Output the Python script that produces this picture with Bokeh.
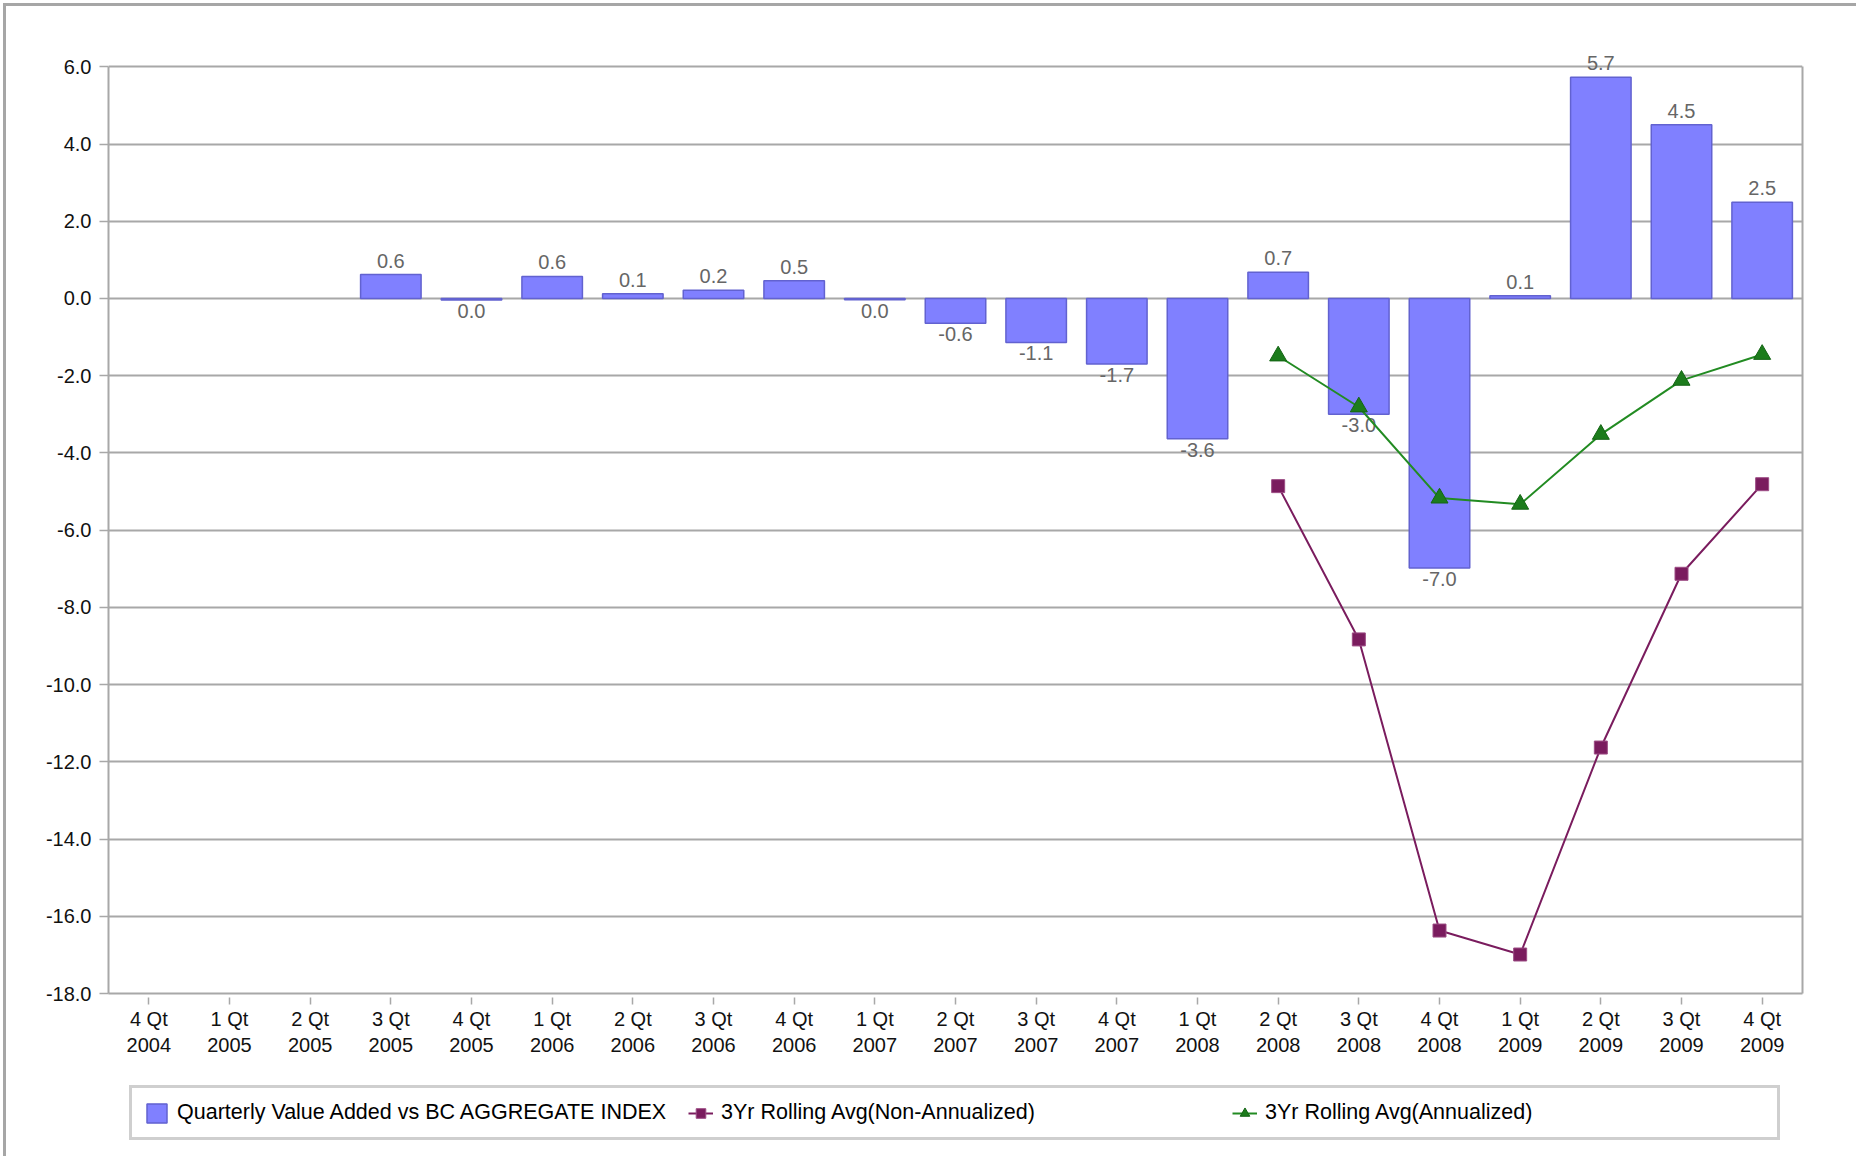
import numpy as np
from bokeh.plotting import figure
from bokeh.layouts import column
from bokeh.models import (ColumnDataSource, FactorRange, Range1d, FixedTicker, LinearAxis,
                          PrintfTickFormatter, Legend, LegendItem, CDSView, IndexFilter)
from bokeh.core.properties import value
from bokeh.embed import file_html
from bokeh.resources import INLINE

# ---------------- data ----------------
quarters = ["4 Qt\n2004", "1 Qt\n2005", "2 Qt\n2005", "3 Qt\n2005", "4 Qt\n2005",
            "1 Qt\n2006", "2 Qt\n2006", "3 Qt\n2006", "4 Qt\n2006", "1 Qt\n2007",
            "2 Qt\n2007", "3 Qt\n2007", "4 Qt\n2007", "1 Qt\n2008", "2 Qt\n2008",
            "3 Qt\n2008", "4 Qt\n2008", "1 Qt\n2009", "2 Qt\n2009", "3 Qt\n2009",
            "4 Qt\n2009"]

value_added = [None, None, None, 0.62, -0.04, 0.57, 0.12, 0.21, 0.46, -0.03,
               -0.64, -1.14, -1.70, -3.63, 0.68, -3.00, -6.98, 0.07, 5.73, 4.50, 2.49]

value_labels = ["", "", "", "0.6", "0.0", "0.6", "0.1", "0.2", "0.5", "0.0",
                "-0.6", "-1.1", "-1.7", "-3.6", "0.7", "-3.0", "-7.0", "0.1", "5.7", "4.5", "2.5"]

rolling_non_annualized = [None, None, None, None, None, None, None, None, None, None,
                          None, None, None, None, -4.86, -8.83, -16.37, -16.99, -11.63, -7.13, -4.81]

rolling_annualized = [None, None, None, None, None, None, None, None, None, None,
                      None, None, None, None, -1.49, -2.81, -5.17, -5.33, -3.52, -2.12, -1.45]

y_ticks = [-18, -16, -14, -12, -10, -8, -6, -4, -2, 0, 2, 4, 6]
y_min, y_max = -18, 6

series_names = ["Quarterly Value Added vs BC AGGREGATE INDEX",
                "3Yr Rolling Avg(Non-Annualized)",
                "3Yr Rolling Avg(Annualized)"]

# ---------------- styling constants ----------------
FONT = "Liberation Sans"
GRID = "#a8a8a8"
BAR_STYLE = dict(fill_color="#8080ff", line_color="#6262d0", line_width=1.5)
PURPLE_LINE = dict(line_color="#7a1c5e", line_width=2)
PURPLE_MARK = dict(marker="square", size=13, fill_color="#7a1c5e", line_color="#9c4c84", line_width=1)
GREEN_LINE = dict(line_color="#228b22", line_width=2)
GREEN_MARK = dict(marker="triangle", size=17, fill_color="#1c7c1c", line_color="#146414", line_width=1)

src = ColumnDataSource(data=dict(
    x=quarters,
    top=np.array(value_added, dtype=float),
    label=value_labels,
    na=np.array(rolling_non_annualized, dtype=float),
    an=np.array(rolling_annualized, dtype=float),
))

# ---------------- main chart ----------------
# the range reaches a little above the top tick so that the "5.7" label is not clipped;
# the visible plot border is drawn by the top grid line and bounded axes
p = figure(x_range=FactorRange(factors=quarters), y_range=Range1d(y_min, y_max + 0.5),
           width=1850, height=1075, output_backend="svg", toolbar_location=None,
           min_border_left=102, min_border_right=54, min_border_top=41, min_border_bottom=88)

p.background_fill_color = "white"
p.border_fill_color = "white"
p.outline_line_color = None

bars = p.vbar(x="x", top="top", bottom=0, width=0.75, source=src, **BAR_STYLE)

pos_idx = [i for i, v in enumerate(value_added) if v is not None and v >= 0]
neg_idx = [i for i, v in enumerate(value_added) if v is not None and v < 0]
p.text(x="x", y="top", text="label", source=src, view=CDSView(filter=IndexFilter(pos_idx)),
       text_align="center", text_baseline="alphabetic", y_offset=-14,
       text_font=value(FONT), text_font_size="20px", text_color="#666666")
p.text(x="x", y="top", text="label", source=src, view=CDSView(filter=IndexFilter(neg_idx)),
       text_align="center", text_baseline="top", y_offset=4,
       text_font=value(FONT), text_font_size="20px", text_color="#666666")

p.line(x="x", y="na", source=src, **PURPLE_LINE)
p.scatter(x="x", y="na", source=src, **PURPLE_MARK)
p.line(x="x", y="an", source=src, **GREEN_LINE)
p.scatter(x="x", y="an", source=src, **GREEN_MARK)

p.xgrid.grid_line_color = None
p.ygrid.ticker = FixedTicker(ticks=y_ticks)
p.ygrid.grid_line_color = GRID
p.ygrid.grid_line_width = 2

p.yaxis.ticker = FixedTicker(ticks=y_ticks)
p.yaxis.formatter = PrintfTickFormatter(format="%.1f")
p.yaxis.bounds = (y_min, y_max)
for ax in (p.xaxis[0], p.yaxis[0]):
    ax.axis_line_color = GRID
    ax.axis_line_width = 2
    ax.major_tick_line_color = GRID
    ax.major_tick_line_width = 1.5
    ax.minor_tick_line_color = None
    ax.major_label_text_font = FONT
    ax.major_label_text_font_size = "20px"
    ax.major_label_text_color = "#111111"

p.yaxis.major_tick_in = 0
p.yaxis.major_tick_out = 9
p.yaxis.major_label_standoff = 8

p.xaxis.major_tick_in = -4
p.xaxis.major_tick_out = 11
p.xaxis.major_label_standoff = 3
p.xaxis.major_label_orientation = "horizontal"

# right border of the plot area
right_edge = LinearAxis(bounds=(y_min, y_max), ticker=FixedTicker(ticks=[]),
                        axis_line_color=GRID, axis_line_width=2,
                        major_tick_line_color=None, minor_tick_line_color=None,
                        major_label_text_font_size="0px")
p.add_layout(right_edge, "right")

# ---------------- legend strip ----------------
pl = figure(width=1850, height=75, output_backend="svg", toolbar_location=None,
            x_range=Range1d(0, 1), y_range=Range1d(0, 1),
            x_axis_type=None, y_axis_type=None,
            min_border_left=0, min_border_right=0, min_border_top=0, min_border_bottom=0)
pl.outline_line_color = None
pl.xgrid.grid_line_color = None
pl.ygrid.grid_line_color = None
pl.background_fill_color = "white"
pl.border_fill_color = "white"

# invisible stand-in renderers (NaN data) that only give the legend its swatches
swatch = ColumnDataSource(data=dict(x=[np.nan], y=[np.nan]))
lb = pl.vbar(x="x", top="y", width=0.1, source=swatch, **BAR_STYLE)
ll1 = pl.line(x="x", y="y", source=swatch, **PURPLE_LINE)
lm1 = pl.scatter(x="x", y="y", source=swatch, **PURPLE_MARK)
ll2 = pl.line(x="x", y="y", source=swatch, **GREEN_LINE)
lm2 = pl.scatter(x="x", y="y", source=swatch, **GREEN_MARK)

legend = Legend(items=[
    LegendItem(label=series_names[0], renderers=[lb]),
    LegendItem(label=series_names[1], renderers=[ll1, lm1]),
    LegendItem(label=series_names[2], renderers=[ll2, lm2]),
], orientation="horizontal", location=(21, 16))
legend.label_text_font = FONT
legend.label_text_font_size = "21.5px"
legend.label_text_color = "black"
legend.glyph_width = 25
legend.glyph_height = 24
legend.label_standoff = 8
legend.label_width = 500
legend.spacing = 11
legend.padding = 12
legend.margin = 0
legend.border_line_color = "#a0a0a0"
legend.border_line_width = 3
legend.background_fill_color = "white"
legend.background_fill_alpha = 1
pl.add_layout(legend)

layout = column(p, pl, spacing=0)
layout.styles = {"border-top": "3px solid #a6a6a6", "border-left": "3px solid #a6a6a6",
                 "margin-top": "3px", "margin-left": "3px"}

open("out.html", "w").write(file_html(layout, INLINE))
